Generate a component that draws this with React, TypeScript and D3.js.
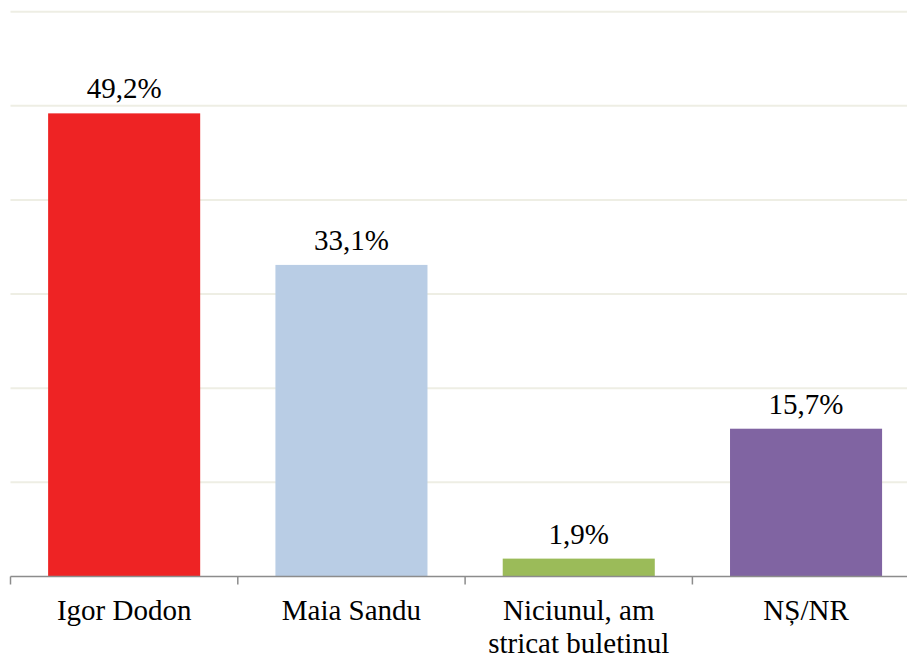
import React, { useEffect, useRef } from "react";
import * as d3 from "d3";

const categories: string[][] = [["Igor Dodon"], ["Maia Sandu"], ["Niciunul, am", "stricat buletinul"], ["NȘ/NR"]];
const values: number[] = [49.2, 33.1, 1.9, 15.7];
const valueLabels: string[] = ["49,2%", "33,1%", "1,9%", "15,7%"];
const colors: string[] = ["#EE2324", "#B9CDE5", "#9BBB59", "#8064A2"];
const gridTicks: number[] = [10, 20, 30, 40, 50, 60];

export default function App() {
  const ref = useRef<SVGSVGElement>(null);
  useEffect(() => {
    const svg = d3.select(ref.current);
    svg.selectAll("*").remove();
    const left = 10.5, right = 919.7, top = 11.7, bottom = 576.5;
    const x = d3.scaleBand<number>().domain(d3.range(values.length)).range([left, right]).paddingInner(0.331).paddingOuter(0.1655);
    const y = d3.scaleLinear().domain([0, 60]).range([bottom, top]);
    const band = (right - left) / values.length;
    const cx = (i: number) => (x(i) as number) + x.bandwidth() / 2;

    svg.selectAll("line.grid").data(gridTicks).join("line")
      .attr("x1", left).attr("x2", right).attr("y1", d => y(d)).attr("y2", d => y(d))
      .attr("stroke", "#EEEEE4").attr("stroke-width", 2);
    svg.selectAll("rect").data(values).join("rect")
      .attr("x", (_, i) => x(i) as number).attr("y", d => y(d))
      .attr("width", x.bandwidth()).attr("height", d => y(0) - y(d))
      .attr("fill", (_, i) => colors[i]);
    svg.append("line").attr("x1", left).attr("x2", right).attr("y1", bottom).attr("y2", bottom)
      .attr("stroke", "#8C8C8C").attr("stroke-width", 1.5);
    svg.selectAll("line.tick").data(d3.range(values.length + 1)).join("line")
      .attr("x1", i => left + i * band).attr("x2", i => left + i * band)
      .attr("y1", bottom).attr("y2", bottom + 8)
      .attr("stroke", "#8C8C8C").attr("stroke-width", 1.5);
    svg.selectAll("text.val").data(values).join("text")
      .attr("x", (_, i) => cx(i)).attr("y", d => y(d) - 15)
      .attr("text-anchor", "middle").attr("font-family", "Liberation Serif").attr("font-size", 29)
      .text((_, i) => valueLabels[i]);
    categories.forEach((lines, i) => {
      const t = svg.append("text").attr("x", cx(i)).attr("y", 620)
        .attr("text-anchor", "middle").attr("font-family", "Liberation Serif").attr("font-size", 29);
      lines.forEach((l, j) => {
        t.append("tspan").attr("x", cx(i)).attr("dy", j === 0 ? 0 : 32.5).text(l);
      });
    });
  }, []);
  return (
    <div style={{ position: "absolute", left: 0, top: 0 }}>
      <svg ref={ref} width={907} height={657}></svg>
    </div>
  );
}
